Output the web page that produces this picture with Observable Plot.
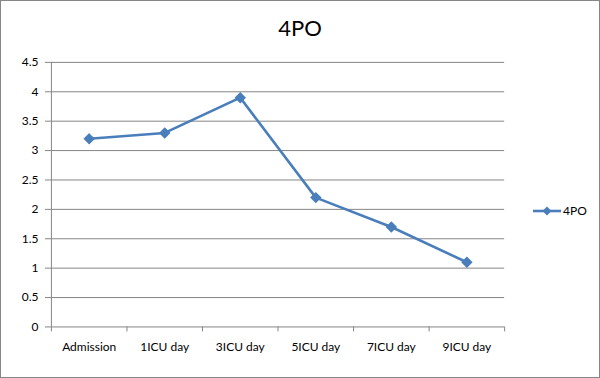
<!DOCTYPE html>
<html>
<head>
<meta charset="utf-8">
<script src="https://cdn.jsdelivr.net/npm/d3@7"></script>
<script src="https://cdn.jsdelivr.net/npm/@observablehq/plot@0.6"></script>
<style>
  html, body { margin: 0; padding: 0; background: #fff; }
  #wrap { position: relative; width: 598px; height: 376px; border: 1px solid #868686; overflow: hidden; font-family: Lato, "Open Sans", sans-serif; }
  #title { position: absolute; left: 0; width: 598px; top: 13px; text-align: center; font-size: 22px; color: #000; }
  #legend { position: absolute; left: 531px; top: 202px; font-size: 12px; display: flex; align-items: center; color: #000; }
  #chart { position: absolute; left: -1px; top: -1px; }
</style>
</head>
<body>
<div id="wrap">
  <div id="chart"></div>
  <div id="title">4PO</div>
  <div id="legend"></div>
</div>
<script>
const categories = ["Admission", "1ICU day", "3ICU day", "5ICU day", "7ICU day", "9ICU day"];
const values = [3.2, 3.3, 3.9, 2.2, 1.7, 1.1];
const seriesName = "4PO";
const yTicks = [0, 0.5, 1, 1.5, 2, 2.5, 3, 3.5, 4, 4.5];

const data = categories.map((c, i) => ({i, c, v: values[i]}));
const idx = categories.map((c, i) => i);
const bounds = [-0.5, ...idx.map(i => i + 0.5)];

const blue = "#4a7ebb";
const gray = "#868686";

const chart = Plot.plot({
  width: 600,
  height: 378,
  marginLeft: 51,
  marginRight: 95,
  marginTop: 62,
  marginBottom: 51,
  style: {fontFamily: "Lato, 'Open Sans', sans-serif", fontSize: "12px", color: "#000", background: "transparent"},
  x: {type: "linear", domain: [-0.5, categories.length - 0.5], axis: null},
  y: {domain: [0, 4.5], axis: null},
  marks: [
    Plot.ruleY(yTicks.filter(t => t > 0), {stroke: gray, strokeWidth: 1}),
    Plot.axisY(yTicks, {label: null, tickSize: 6, tickPadding: 7, stroke: gray, tickFormat: d => String(d), fontSize: 12, fill: "#000"}),
    Plot.axisX(bounds, {label: null, tickSize: 5, tickFormat: () => "", stroke: gray}),
    Plot.axisX(idx, {label: null, tickSize: 0, tickPadding: 16, tickFormat: i => categories[i], fontSize: 12, fill: "#000"}),
    Plot.ruleX([-0.5], {stroke: gray}),
    Plot.ruleY([0], {stroke: gray}),
    Plot.line(data, {x: "i", y: "v", stroke: blue, strokeWidth: 2.6}),
    Plot.dot(data, {x: "i", y: "v", symbol: "diamond2", r: 4.2, fill: blue, stroke: blue})
  ]
});
document.getElementById("chart").appendChild(chart);

// legend
const leg = document.getElementById("legend");
leg.innerHTML = `<svg width="30" height="12"><line x1="1" y1="6" x2="29" y2="6" stroke="${blue}" stroke-width="2.6"/><path d="M15,1.5 L19.5,6 L15,10.5 L10.5,6 Z" fill="${blue}"/></svg><span style="margin-left:1px">${seriesName}</span>`;
</script>
</body>
</html>
